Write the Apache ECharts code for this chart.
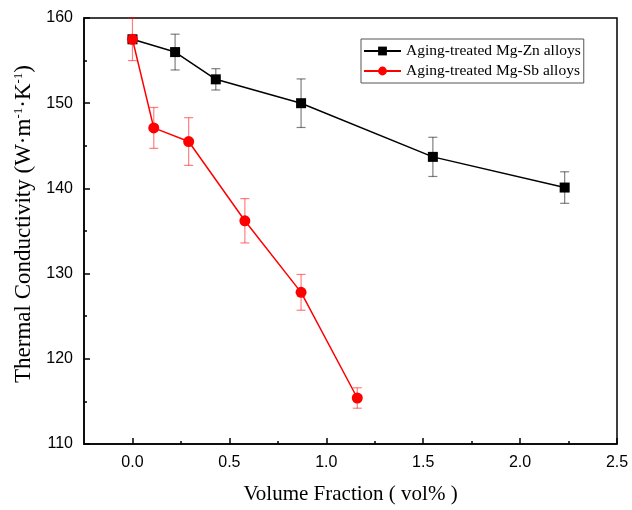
<!DOCTYPE html>
<html>
<head>
<meta charset="utf-8">
<script src="https://cdn.jsdelivr.net/npm/echarts@6/dist/echarts.min.js"></script>
<style>html,body{margin:0;padding:0;background:#fff}#c{width:632px;height:510px}</style>
</head>
<body>
<div id="c"></div>
<script>
// ---- data ----
const znName = 'Aging-treated Mg-Zn alloys';
const sbName = 'Aging-treated Mg-Sb alloys';
const xZn = [0, 0.22, 0.43, 0.87, 1.55, 2.23];
const yZn = [157.5, 156.0, 152.8, 150.0, 143.7, 140.1];
const eZn = [0, 2.1, 1.25, 2.85, 2.3, 1.85];
const xSb = [0, 0.11, 0.29, 0.58, 0.87, 1.16];
const ySb = [157.5, 147.1, 145.5, 136.2, 127.8, 115.4];
const eSb = [2.5, 2.4, 2.8, 2.6, 2.1, 1.2];
const xMajorTicks = [0, 0.5, 1.0, 1.5, 2.0, 2.5];
const xMinorTicks = [0.25, 0.75, 1.25, 1.75, 2.25];
const yMin = 110, yMax = 160, yStep = 10;
const xMin = -0.25, xMax = 2.5;

const pts = (xs, ys) => xs.map((x, i) => [x, ys[i]]);
const errPts = (xs, ys, es) => xs.map((x, i) => [x, ys[i], es[i]]);

function errRender(color) {
  return function (params, api) {
    const x = api.value(0), y = api.value(1), e = api.value(2);
    if (!e) return null;
    const t = api.coord([x, y + e]), b = api.coord([x, y - e]);
    const hw = 4.5;
    const st = { stroke: color, lineWidth: 1.2 };
    return {
      type: 'group', children: [
        { type: 'line', shape: { x1: t[0], y1: t[1], x2: b[0], y2: b[1] }, style: st },
        { type: 'line', shape: { x1: t[0] - hw, y1: t[1], x2: t[0] + hw, y2: t[1] }, style: st },
        { type: 'line', shape: { x1: b[0] - hw, y1: b[1], x2: b[0] + hw, y2: b[1] }, style: st }
      ]
    };
  };
}

const serif = 'Liberation Serif';
const sans = 'Liberation Sans';
const chart = echarts.init(document.getElementById('c'), null, { renderer: 'canvas' });
chart.setOption({
  animation: false,
  backgroundColor: '#fff',
  grid: { left: 84, right: 15, top: 18, bottom: 64, show: true, borderColor: '#000', borderWidth: 1.5 },
  legend: {
    orient: 'vertical', left: 361, top: 39,
    padding: [4, 3, 4, 2],
    borderColor: '#555', borderWidth: 1,
    itemWidth: 37, itemHeight: 11, itemGap: 4,
    textStyle: { fontFamily: serif, fontSize: 15.5, color: '#000' },
    data: [znName, sbName]
  },
  xAxis: [{
    type: 'value', min: xMin, max: xMax, position: 'bottom',
    name: 'Volume Fraction ( vol% )', nameLocation: 'middle', nameGap: 40,
    nameTextStyle: { fontFamily: serif, fontSize: 21, color: '#000' },
    axisLine: { show: true, onZero: false, lineStyle: { color: '#000', width: 1.5 } },
    axisTick: { show: true, inside: true, length: 6, customValues: xMajorTicks, lineStyle: { color: '#000', width: 1.5 } },
    axisLabel: { customValues: xMajorTicks, formatter: v => v.toFixed(1), margin: 11, fontFamily: sans, fontSize: 16, color: '#000' },
    splitLine: { show: false }
  }, {
    type: 'value', min: xMin, max: xMax, position: 'bottom',
    axisLine: { show: false },
    axisTick: { show: true, inside: true, length: 3, customValues: xMinorTicks, lineStyle: { color: '#000', width: 1.5 } },
    axisLabel: { show: false },
    splitLine: { show: false }
  }],
  yAxis: {
    type: 'value', min: yMin, max: yMax, interval: yStep,
    name: '{n|Thermal Conductivity (W·m}{s|-1}{n|·K}{s|-1}{n|)}',
    nameLocation: 'middle', nameGap: 47, nameRotate: 90,
    nameTextStyle: {
      fontFamily: serif, fontSize: 23, color: '#000', padding: [0, 0, 0, 14],
      rich: {
        n: { fontFamily: serif, fontSize: 23, color: '#000' },
        s: { fontFamily: serif, fontSize: 13, color: '#000', verticalAlign: 'top', padding: [0, 0, 10, 0] }
      }
    },
    axisLine: { show: true, onZero: false, lineStyle: { color: '#000', width: 1.5 } },
    axisTick: { show: true, inside: true, length: 6, lineStyle: { color: '#000', width: 1.5 } },
    minorTick: { show: true, splitNumber: 2, length: 3, lineStyle: { color: '#000', width: 1.5 } },
    axisLabel: { margin: 11, fontFamily: sans, fontSize: 16, color: '#000' },
    splitLine: { show: false }
  },
  series: [
    {
      name: 'errZn', type: 'custom', renderItem: errRender('rgba(0,0,0,0.5)'),
      data: errPts(xZn, yZn, eZn), z: 1, silent: true, clip: false
    },
    {
      name: 'errSb', type: 'custom', renderItem: errRender('rgba(255,0,0,0.5)'),
      data: errPts(xSb, ySb, eSb), z: 1, silent: true, clip: false
    },
    {
      name: znName, type: 'line', data: pts(xZn, yZn), z: 3,
      symbol: 'rect', symbolSize: 10,
      lineStyle: { color: '#000', width: 1.5 },
      itemStyle: { color: '#000' }
    },
    {
      name: sbName, type: 'line', data: pts(xSb, ySb), z: 4,
      symbol: 'circle', symbolSize: 11,
      lineStyle: { color: '#ff0000', width: 1.5 },
      itemStyle: { color: '#ff0000' }
    }
  ]
});
</script>
</body>
</html>
